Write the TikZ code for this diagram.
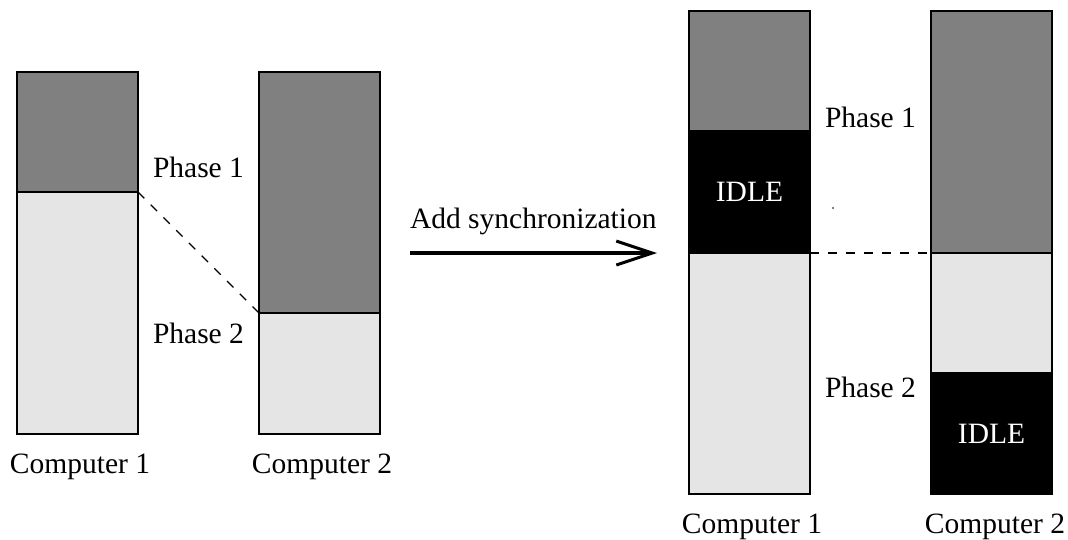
\documentclass[tikz,border=0pt]{standalone}
\usepackage{fontspec}
\setmainfont{Liberation Serif}
\usetikzlibrary{arrows.meta}
\definecolor{darkseg}{gray}{0.5}
\definecolor{lightseg}{gray}{0.9}
\begin{document}
\begin{tikzpicture}[x=1pt,y=-1pt,
  seg/.style={draw, line width=1.5pt, inner sep=0pt, outer sep=0pt, anchor=north west, minimum width=121pt},
  dark/.style={seg, fill=darkseg},
  light/.style={seg, fill=lightseg},
  idle/.style={seg, fill=black, text=white, font=\fontsize{29.5}{32}\selectfont},
  lbl/.style={inner sep=0pt, outer sep=0pt, font=\fontsize{29.5}{32}\selectfont},
  sync/.style={dashed, dash pattern=on 9pt off 9pt, line width=1.2pt}
]
\useasboundingbox (0,0) rectangle (1068,539);
% left
\node[dark,  minimum height=120pt] (a1) at (17,72) {};
\node[light, minimum height=242pt] (a2) at (17,192) {};
\node[dark,  minimum height=241pt] (b1) at (259,72) {};
\node[light, minimum height=121pt] (b2) at (259,313) {};
\draw[sync] (a1.south east) -- (b1.south west);
\node[lbl, anchor=base west] (p1l) at (153,177) {Phase 1};
\node[lbl, anchor=base west] (p2l) at (153,343) {Phase 2};
\node[lbl, anchor=base] (c1l) at (80,473) {Computer 1};
\node[lbl, anchor=base] (c2l) at (322,473) {Computer 2};
% arrow
\coordinate (as) at (410,253);
\coordinate (ae) at (657,253);
\draw[line width=4pt, -{Straight Barb[length=36pt,width=24pt,line width=3pt]}] (as) -- (ae);
\node[lbl, anchor=base west] (addsync) at (410,228) {Add synchronization};
% right
\node[dark,  minimum height=120pt] (r1) at (689,11) {};
\node[idle,  minimum height=122pt] (r2) at (689,131) {IDLE};
\node[light, minimum height=241pt] (r3) at (689,253) {};
\node[dark,  minimum height=242pt] (s1) at (931,11) {};
\node[light, minimum height=120pt] (s2) at (931,253) {};
\node[idle,  minimum height=121pt] (s3) at (931,373) {IDLE};
\draw[sync] (r2.south east) -- (s1.south west);
\node[lbl, anchor=base west] (p1r) at (825,127) {Phase 1};
\node[lbl, anchor=base west] (p2r) at (825,397) {Phase 2};
\node[lbl, anchor=base] (c1r) at (752,533) {Computer 1};
\node[lbl, anchor=base] (c2r) at (995,533) {Computer 2};
\fill (833,208) circle (0.8pt);
\end{tikzpicture}
\end{document}
